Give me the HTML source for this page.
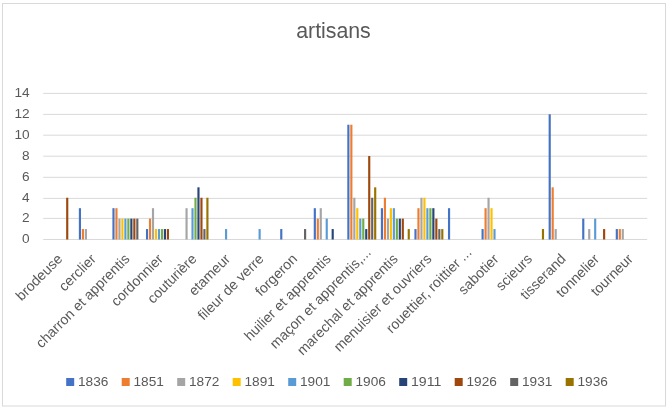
<!DOCTYPE html><html><head><meta charset="utf-8"><style>html,body{margin:0;padding:0;background:#fff}</style></head><body><svg width="671" height="411" viewBox="0 0 671 411" style="display:block;will-change:transform;font-family:'Liberation Sans',sans-serif">
<rect x="0" y="0" width="671" height="411" fill="#fff"/>
<rect x="2.5" y="3.5" width="663" height="402.5" fill="#fff" stroke="#D9D9D9" stroke-width="1"/>
<line x1="43.2" x2="647.2" y1="239.50" y2="239.50" stroke="#D9D9D9" stroke-width="1"/>
<text x="22.10" y="243.40" font-size="13" fill="#595959" textLength="7.60" lengthAdjust="spacingAndGlyphs">0</text>
<line x1="43.2" x2="647.2" y1="218.40" y2="218.40" stroke="#D9D9D9" stroke-width="1"/>
<text x="22.10" y="222.30" font-size="13" fill="#595959" textLength="7.60" lengthAdjust="spacingAndGlyphs">2</text>
<line x1="43.2" x2="647.2" y1="198.40" y2="198.40" stroke="#D9D9D9" stroke-width="1"/>
<text x="22.10" y="202.30" font-size="13" fill="#595959" textLength="7.60" lengthAdjust="spacingAndGlyphs">4</text>
<line x1="43.2" x2="647.2" y1="177.30" y2="177.30" stroke="#D9D9D9" stroke-width="1"/>
<text x="22.10" y="181.20" font-size="13" fill="#595959" textLength="7.60" lengthAdjust="spacingAndGlyphs">6</text>
<line x1="43.2" x2="647.2" y1="156.20" y2="156.20" stroke="#D9D9D9" stroke-width="1"/>
<text x="22.10" y="160.10" font-size="13" fill="#595959" textLength="7.60" lengthAdjust="spacingAndGlyphs">8</text>
<line x1="43.2" x2="647.2" y1="135.20" y2="135.20" stroke="#D9D9D9" stroke-width="1"/>
<text x="14.50" y="139.10" font-size="13" fill="#595959" textLength="15.20" lengthAdjust="spacingAndGlyphs">10</text>
<line x1="43.2" x2="647.2" y1="114.40" y2="114.40" stroke="#D9D9D9" stroke-width="1"/>
<text x="14.50" y="118.30" font-size="13" fill="#595959" textLength="15.20" lengthAdjust="spacingAndGlyphs">12</text>
<line x1="43.2" x2="647.2" y1="93.40" y2="93.40" stroke="#D9D9D9" stroke-width="1"/>
<text x="14.50" y="97.30" font-size="13" fill="#595959" textLength="15.20" lengthAdjust="spacingAndGlyphs">14</text>
<rect x="66.16" y="197.76" width="2.15" height="41.74" fill="#9E480E"/>
<rect x="78.86" y="208.19" width="2.15" height="31.31" fill="#4472C4"/>
<rect x="81.84" y="229.06" width="2.15" height="10.44" fill="#ED7D31"/>
<rect x="84.82" y="229.06" width="2.15" height="10.44" fill="#A5A5A5"/>
<rect x="112.41" y="208.19" width="2.15" height="31.31" fill="#4472C4"/>
<rect x="115.39" y="208.19" width="2.15" height="31.31" fill="#ED7D31"/>
<rect x="118.37" y="218.63" width="2.15" height="20.87" fill="#A5A5A5"/>
<rect x="121.35" y="218.63" width="2.15" height="20.87" fill="#FFC000"/>
<rect x="124.33" y="218.63" width="2.15" height="20.87" fill="#5B9BD5"/>
<rect x="127.31" y="218.63" width="2.15" height="20.87" fill="#70AD47"/>
<rect x="130.29" y="218.63" width="2.15" height="20.87" fill="#264478"/>
<rect x="133.27" y="218.63" width="2.15" height="20.87" fill="#9E480E"/>
<rect x="136.25" y="218.63" width="2.15" height="20.87" fill="#636363"/>
<rect x="145.97" y="229.06" width="2.15" height="10.44" fill="#4472C4"/>
<rect x="148.95" y="218.63" width="2.15" height="20.87" fill="#ED7D31"/>
<rect x="151.93" y="208.19" width="2.15" height="31.31" fill="#A5A5A5"/>
<rect x="154.91" y="229.06" width="2.15" height="10.44" fill="#FFC000"/>
<rect x="157.89" y="229.06" width="2.15" height="10.44" fill="#5B9BD5"/>
<rect x="160.87" y="229.06" width="2.15" height="10.44" fill="#70AD47"/>
<rect x="163.85" y="229.06" width="2.15" height="10.44" fill="#264478"/>
<rect x="166.83" y="229.06" width="2.15" height="10.44" fill="#9E480E"/>
<rect x="185.48" y="208.19" width="2.15" height="31.31" fill="#A5A5A5"/>
<rect x="191.44" y="208.19" width="2.15" height="31.31" fill="#5B9BD5"/>
<rect x="194.42" y="197.76" width="2.15" height="41.74" fill="#70AD47"/>
<rect x="197.40" y="187.32" width="2.15" height="52.18" fill="#264478"/>
<rect x="200.38" y="197.76" width="2.15" height="41.74" fill="#9E480E"/>
<rect x="203.36" y="229.06" width="2.15" height="10.44" fill="#636363"/>
<rect x="206.34" y="197.76" width="2.15" height="41.74" fill="#997300"/>
<rect x="225.00" y="229.06" width="2.15" height="10.44" fill="#5B9BD5"/>
<rect x="258.55" y="229.06" width="2.15" height="10.44" fill="#5B9BD5"/>
<rect x="280.19" y="229.06" width="2.15" height="10.44" fill="#4472C4"/>
<rect x="304.03" y="229.06" width="2.15" height="10.44" fill="#636363"/>
<rect x="313.74" y="208.19" width="2.15" height="31.31" fill="#4472C4"/>
<rect x="316.72" y="218.63" width="2.15" height="20.87" fill="#ED7D31"/>
<rect x="319.70" y="208.19" width="2.15" height="31.31" fill="#A5A5A5"/>
<rect x="325.66" y="218.63" width="2.15" height="20.87" fill="#5B9BD5"/>
<rect x="331.62" y="229.06" width="2.15" height="10.44" fill="#264478"/>
<rect x="347.30" y="124.71" width="2.15" height="114.79" fill="#4472C4"/>
<rect x="350.28" y="124.71" width="2.15" height="114.79" fill="#ED7D31"/>
<rect x="353.26" y="197.76" width="2.15" height="41.74" fill="#A5A5A5"/>
<rect x="356.24" y="208.19" width="2.15" height="31.31" fill="#FFC000"/>
<rect x="359.22" y="218.63" width="2.15" height="20.87" fill="#5B9BD5"/>
<rect x="362.20" y="218.63" width="2.15" height="20.87" fill="#70AD47"/>
<rect x="365.18" y="229.06" width="2.15" height="10.44" fill="#264478"/>
<rect x="368.16" y="156.01" width="2.15" height="83.49" fill="#9E480E"/>
<rect x="371.14" y="197.76" width="2.15" height="41.74" fill="#636363"/>
<rect x="374.12" y="187.32" width="2.15" height="52.18" fill="#997300"/>
<rect x="380.86" y="208.19" width="2.15" height="31.31" fill="#4472C4"/>
<rect x="383.84" y="197.76" width="2.15" height="41.74" fill="#ED7D31"/>
<rect x="386.82" y="218.63" width="2.15" height="20.87" fill="#A5A5A5"/>
<rect x="389.80" y="208.19" width="2.15" height="31.31" fill="#FFC000"/>
<rect x="392.78" y="208.19" width="2.15" height="31.31" fill="#5B9BD5"/>
<rect x="395.76" y="218.63" width="2.15" height="20.87" fill="#70AD47"/>
<rect x="398.74" y="218.63" width="2.15" height="20.87" fill="#264478"/>
<rect x="401.72" y="218.63" width="2.15" height="20.87" fill="#9E480E"/>
<rect x="407.68" y="229.06" width="2.15" height="10.44" fill="#997300"/>
<rect x="414.41" y="229.06" width="2.15" height="10.44" fill="#4472C4"/>
<rect x="417.39" y="208.19" width="2.15" height="31.31" fill="#ED7D31"/>
<rect x="420.37" y="197.76" width="2.15" height="41.74" fill="#A5A5A5"/>
<rect x="423.35" y="197.76" width="2.15" height="41.74" fill="#FFC000"/>
<rect x="426.33" y="208.19" width="2.15" height="31.31" fill="#5B9BD5"/>
<rect x="429.31" y="208.19" width="2.15" height="31.31" fill="#70AD47"/>
<rect x="432.29" y="208.19" width="2.15" height="31.31" fill="#264478"/>
<rect x="435.27" y="218.63" width="2.15" height="20.87" fill="#9E480E"/>
<rect x="438.25" y="229.06" width="2.15" height="10.44" fill="#636363"/>
<rect x="441.23" y="229.06" width="2.15" height="10.44" fill="#997300"/>
<rect x="447.97" y="208.19" width="2.15" height="31.31" fill="#4472C4"/>
<rect x="481.52" y="229.06" width="2.15" height="10.44" fill="#4472C4"/>
<rect x="484.50" y="208.19" width="2.15" height="31.31" fill="#ED7D31"/>
<rect x="487.48" y="197.76" width="2.15" height="41.74" fill="#A5A5A5"/>
<rect x="490.46" y="208.19" width="2.15" height="31.31" fill="#FFC000"/>
<rect x="493.44" y="229.06" width="2.15" height="10.44" fill="#5B9BD5"/>
<rect x="541.90" y="229.06" width="2.15" height="10.44" fill="#997300"/>
<rect x="548.63" y="114.27" width="2.15" height="125.23" fill="#4472C4"/>
<rect x="551.61" y="187.32" width="2.15" height="52.18" fill="#ED7D31"/>
<rect x="554.59" y="229.06" width="2.15" height="10.44" fill="#A5A5A5"/>
<rect x="582.19" y="218.63" width="2.15" height="20.87" fill="#4472C4"/>
<rect x="588.15" y="229.06" width="2.15" height="10.44" fill="#A5A5A5"/>
<rect x="594.11" y="218.63" width="2.15" height="20.87" fill="#5B9BD5"/>
<rect x="603.05" y="229.06" width="2.15" height="10.44" fill="#9E480E"/>
<rect x="615.74" y="229.06" width="2.15" height="10.44" fill="#4472C4"/>
<rect x="618.72" y="229.06" width="2.15" height="10.44" fill="#ED7D31"/>
<rect x="621.70" y="229.06" width="2.15" height="10.44" fill="#A5A5A5"/>
<text transform="translate(63.28,259.80) rotate(-45)" font-size="14.15" fill="#595959" text-anchor="end">brodeuse</text>
<text transform="translate(96.83,259.80) rotate(-45)" font-size="14.15" fill="#595959" text-anchor="end">cerclier</text>
<text transform="translate(130.39,259.80) rotate(-45)" font-size="14.15" fill="#595959" text-anchor="end">charron et apprentis</text>
<text transform="translate(163.94,259.80) rotate(-45)" font-size="14.15" fill="#595959" text-anchor="end">cordonnier</text>
<text transform="translate(197.50,259.80) rotate(-45)" font-size="14.15" fill="#595959" text-anchor="end">couturière</text>
<text transform="translate(231.06,259.80) rotate(-45)" font-size="14.15" fill="#595959" text-anchor="end">etameur</text>
<text transform="translate(264.61,259.80) rotate(-45)" font-size="14.15" fill="#595959" text-anchor="end">fileur de verre</text>
<text transform="translate(298.17,259.80) rotate(-45)" font-size="14.15" fill="#595959" text-anchor="end">forgeron</text>
<text transform="translate(331.72,259.80) rotate(-45)" font-size="14.15" fill="#595959" text-anchor="end">huilier et apprentis</text>
<text transform="translate(371.78,253.30) rotate(-45)" font-size="14.15" fill="#595959" text-anchor="end">maçon et apprentis,...</text>
<text transform="translate(398.83,259.80) rotate(-45)" font-size="14.15" fill="#595959" text-anchor="end">marechal et apprentis</text>
<text transform="translate(432.39,259.80) rotate(-45)" font-size="14.15" fill="#595959" text-anchor="end">menuisier et ouvriers</text>
<text transform="translate(472.44,253.30) rotate(-45)" font-size="14.15" fill="#595959" text-anchor="end">rouettier, roittier ...</text>
<text transform="translate(499.50,259.80) rotate(-45)" font-size="14.15" fill="#595959" text-anchor="end">sabotier</text>
<text transform="translate(533.06,259.80) rotate(-45)" font-size="14.15" fill="#595959" text-anchor="end">scieurs</text>
<text transform="translate(566.61,259.80) rotate(-45)" font-size="14.15" fill="#595959" text-anchor="end">tisserand</text>
<text transform="translate(600.17,259.80) rotate(-45)" font-size="14.15" fill="#595959" text-anchor="end">tonnelier</text>
<text transform="translate(633.72,259.80) rotate(-45)" font-size="14.15" fill="#595959" text-anchor="end">tourneur</text>
<text x="333.5" y="37.8" font-size="21.3" fill="#595959" text-anchor="middle">artisans</text>
<rect x="66.20" y="378" width="8" height="8" fill="#4472C4"/>
<text x="78.00" y="386" font-size="13" fill="#595959" textLength="30.4" lengthAdjust="spacingAndGlyphs">1836</text>
<rect x="121.70" y="378" width="8" height="8" fill="#ED7D31"/>
<text x="133.50" y="386" font-size="13" fill="#595959" textLength="30.4" lengthAdjust="spacingAndGlyphs">1851</text>
<rect x="177.20" y="378" width="8" height="8" fill="#A5A5A5"/>
<text x="189.00" y="386" font-size="13" fill="#595959" textLength="30.4" lengthAdjust="spacingAndGlyphs">1872</text>
<rect x="232.70" y="378" width="8" height="8" fill="#FFC000"/>
<text x="244.50" y="386" font-size="13" fill="#595959" textLength="30.4" lengthAdjust="spacingAndGlyphs">1891</text>
<rect x="288.20" y="378" width="8" height="8" fill="#5B9BD5"/>
<text x="300.00" y="386" font-size="13" fill="#595959" textLength="30.4" lengthAdjust="spacingAndGlyphs">1901</text>
<rect x="343.70" y="378" width="8" height="8" fill="#70AD47"/>
<text x="355.50" y="386" font-size="13" fill="#595959" textLength="30.4" lengthAdjust="spacingAndGlyphs">1906</text>
<rect x="399.20" y="378" width="8" height="8" fill="#264478"/>
<text x="411.00" y="386" font-size="13" fill="#595959" textLength="30.4" lengthAdjust="spacingAndGlyphs">1911</text>
<rect x="454.70" y="378" width="8" height="8" fill="#9E480E"/>
<text x="466.50" y="386" font-size="13" fill="#595959" textLength="30.4" lengthAdjust="spacingAndGlyphs">1926</text>
<rect x="510.20" y="378" width="8" height="8" fill="#636363"/>
<text x="522.00" y="386" font-size="13" fill="#595959" textLength="30.4" lengthAdjust="spacingAndGlyphs">1931</text>
<rect x="565.70" y="378" width="8" height="8" fill="#997300"/>
<text x="577.50" y="386" font-size="13" fill="#595959" textLength="30.4" lengthAdjust="spacingAndGlyphs">1936</text>
</svg></body></html>
